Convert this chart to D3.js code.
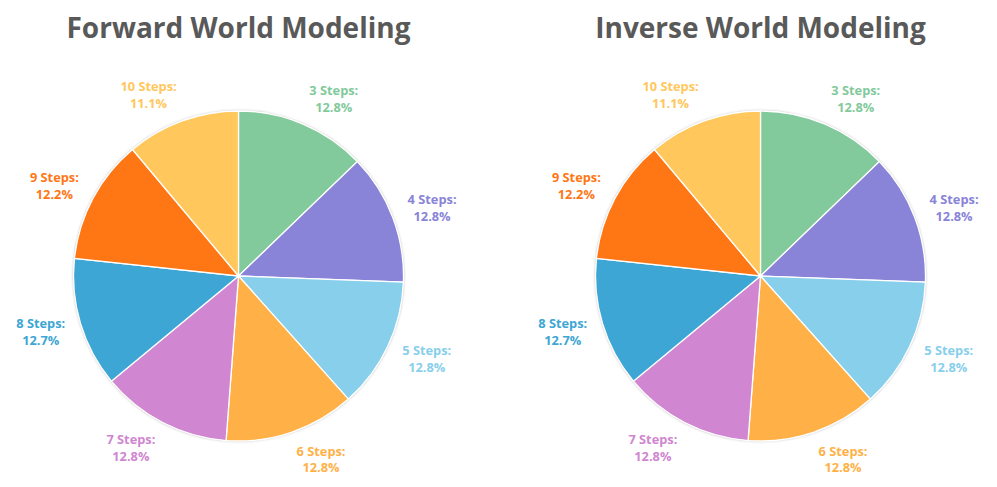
<!DOCTYPE html>
<html>
<head>
<meta charset="utf-8">
<script src="https://cdn.jsdelivr.net/npm/d3@7"></script>
<style>
  body { margin: 0; background: #fff; }
  svg { display: block; }
</style>
</head>
<body>
<svg id="chart"></svg>
<script>
// chart data
const categories = ["3 Steps", "4 Steps", "5 Steps", "6 Steps", "7 Steps", "8 Steps", "9 Steps", "10 Steps"];
const forwardValues = [12.8, 12.8, 12.8, 12.8, 12.8, 12.7, 12.2, 11.1];
const inverseValues = [12.8, 12.8, 12.8, 12.8, 12.8, 12.7, 12.2, 11.1];
const titles = ["Forward World Modeling", "Inverse World Modeling"];
const colors = ["#82ca9b", "#8984d7", "#88cfeb", "#ffb147", "#d086d0", "#3da6d4", "#ff7614", "#ffc75c"];

var width = 997, height = 487;
var radius = 165;

const svg = d3.select("#chart").attr("width", width).attr("height", height);

// soft shadow round the pie
const filter = svg.append("defs").append("filter")
    .attr("id", "shadow")
    .attr("x", "-10%").attr("y", "-10%")
    .attr("width", "120%").attr("height", "120%");
filter.append("feDropShadow")
    .attr("dx", 0).attr("dy", 0)
    .attr("stdDeviation", 1.6)
    .attr("flood-color", "#000")
    .attr("flood-opacity", 0.35);

const color = d3.scaleOrdinal().domain(categories).range(colors);

function drawPie(values, title, cx, cy) {
    var g = svg.append("g").attr("transform", `translate(${cx},${cy})`);

    svg.append("text")
        .attr("x", cx)
        .attr("y", 38)
        .attr("text-anchor", "middle")
        .style("font-family", "'Open Sans', sans-serif")
        .style("font-weight", "bold")
        .style("font-size", "28px")
        .style("fill", "#595959")
        .text(title);

    var data = categories.map((c, i) => ({ name: c, value: values[i] }));
    var pie = d3.pie().sort(null).value((d) => d.value);
    var arc = d3.arc().innerRadius(0).outerRadius(radius);
    var arcs = pie(data);

    // shadow disc underneath
    g.append("circle")
        .attr("r", radius)
        .attr("fill", "#fff")
        .attr("filter", "url(#shadow)");

    g.selectAll("path")
        .data(arcs)
        .join("path")
        .attr("d", arc)
        .attr("fill", (d) => color(d.data.name))
        .attr("stroke", "#fff")
        .attr("stroke-width", 1.3);

    // outside end labels
    var labels = g.selectAll("text.lbl")
        .data(arcs)
        .join("text")
        .attr("class", "lbl")
        .attr("text-anchor", "middle")
        .style("font-family", "'Open Sans', sans-serif")
        .style("font-weight", "bold")
        .style("font-size", "12.8px")
        .style("fill", (d) => color(d.data.name));

    labels.append("tspan").attr("x", 0).attr("dy", "-0.25em").text((d) => d.data.name + ":");
    labels.append("tspan").attr("x", 0).attr("dy", "1.3em").text((d) => d.data.value.toFixed(1) + "%");

    labels.each(function (d) {
        var a = (d.startAngle + d.endAngle) / 2;
        var ux = Math.sin(a), uy = -Math.cos(a);
        var w = this.getBBox().width;
        var r = radius + 16;
        var x = r * ux + Math.sign(ux) * w / 2;
        var y = r * uy + uy * 12;
        d3.select(this).attr("transform", `translate(${x},${y})`);
    });
}

drawPie(forwardValues, titles[0], 238.5, 276);
drawPie(inverseValues, titles[1], 760.5, 276);
</script>
</body>
</html>
